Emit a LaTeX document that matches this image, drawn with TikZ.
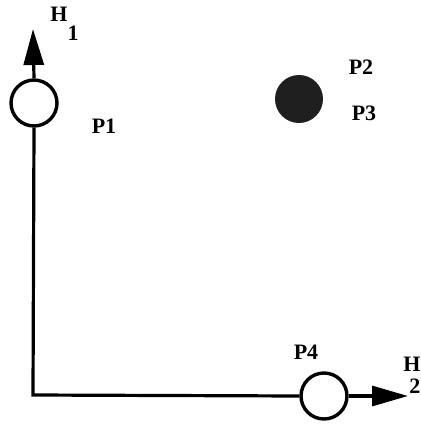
\documentclass[tikz,border=0pt]{standalone}
\usepackage{fontspec}
\setmainfont{Liberation Serif}
\usetikzlibrary{positioning,arrows.meta}

\begin{document}
\begin{tikzpicture}[
    x=0.5pt,y=-0.5pt,
    pt/.style={circle,draw,line width=1.7pt,minimum size=23pt,inner sep=0pt,fill=white},
    dot/.style={circle,fill=black!88,minimum size=24pt,inner sep=0pt},
    lbl/.style={font=\fontsize{11}{12}\selectfont\bfseries,inner sep=0pt},
    axis/.style={line width=1.6pt},
    arr/.style={line width=1.6pt,-{Triangle[length=18pt,width=10pt]}}
  ]
    \useasboundingbox (0,0) rectangle (420,424);
    % axes
    \coordinate (origin) at (33,395);
    \coordinate (h1tip) at (33,29);
    \coordinate (h2tip) at (408,396);
    \node[pt] (p1) at (34,103) {};
    \node[pt] (p4) at (324,396) {};
    \node[dot] (p23) at (299,99) {};
    \draw[axis] (p1.south) -- (origin) -- (p4.west);
    \draw[arr] (p1.north) -- (h1tip);
    \draw[arr] (p4.east) -- (h2tip);
    % labels
    \node[lbl,anchor=north west] (h1) at (50,7) {H\raisebox{-1.9ex}{1}};
    \node[lbl,align=left,anchor=north west] (h2) at (403,357) {H\\[-1pt]\hspace*{3pt}2};
    \node[lbl] (l1) at (104,126) {P1};
    \node[lbl] (l2) at (361,67) {P2};
    \node[lbl] (l3) at (364,113) {P3};
    \node[lbl] (l4) at (306,352) {P4};
  \end{tikzpicture}
\end{document}
